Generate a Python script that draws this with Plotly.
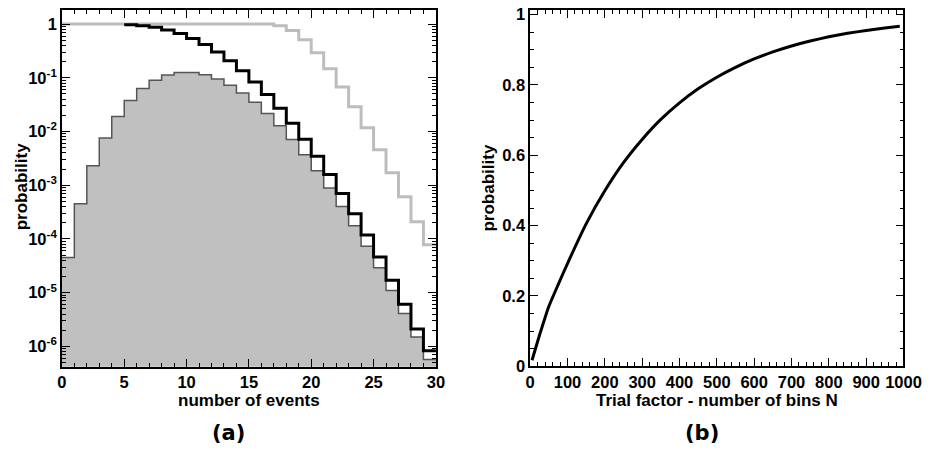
import plotly.graph_objects as go

# ---------------- data ----------------
# (a) Poisson-like histogram of number of events, bins 0..29
hist_vals = [4.5e-5, 4.5e-4, 2.3e-3, 7.6e-3, 1.9e-2, 3.8e-2, 6.3e-2, 9.0e-2, 0.113, 0.125,
             0.125, 0.114, 0.095, 0.073, 0.052, 0.035, 0.0217, 0.0128, 0.0071, 0.0037,
             0.00187, 8.9e-4, 4.0e-4, 1.76e-4, 7.3e-5, 2.9e-5, 1.1e-5, 4.1e-6, 1.5e-6, 5.7e-7]
# cumulative probability (black), bins 5..29
cum_start = 5
cum_vals = [0.971, 0.933, 0.870, 0.780, 0.667, 0.542, 0.417, 0.303, 0.208, 0.135,
            0.0835, 0.0487, 0.027, 0.0143, 0.0072, 0.00345, 0.00159, 7.0e-4, 2.94e-4, 1.19e-4,
            4.6e-5, 1.7e-5, 6.1e-6, 2.1e-6, 8.3e-7]
# trial-factor corrected probability (light gray), bins 0..29
trial_vals = [1.0] * 17 + [0.935, 0.763, 0.514, 0.292, 0.147, 0.0674, 0.029, 0.0118,
                           0.0046, 0.0017, 6.1e-4, 2.1e-4, 7.8e-5]

# (b) probability vs trial factor N
n_bins = [5, 25, 50, 75, 100, 150, 200, 250, 300, 350, 400, 450, 500, 550, 600,
          650, 700, 750, 800, 850, 900, 950, 990]
prob_b = [0.017, 0.088, 0.170, 0.232, 0.292, 0.405, 0.499, 0.579, 0.645, 0.702, 0.749,
          0.789, 0.822, 0.850, 0.874, 0.894, 0.911, 0.925, 0.937, 0.947, 0.955, 0.962, 0.967]

ytick_vals_a = [1e-6, 1e-5, 1e-4, 1e-3, 1e-2, 1e-1, 1]
ytick_text_a = ["10<sup>-6</sup>", "10<sup>-5</sup>", "10<sup>-4</sup>", "10<sup>-3</sup>",
                "10<sup>-2</sup>", "10<sup>-1</sup>", "1"]
xtick_vals_a = [0, 5, 10, 15, 20, 25, 30]
xtick_vals_b = [0, 100, 200, 300, 400, 500, 600, 700, 800, 900, 1000]
ytick_vals_b = [0, 0.2, 0.4, 0.6, 0.8, 1]
ytick_text_b = ["0", "0.2", "0.4", "0.6", "0.8", "1"]

# ---------------- geometry ----------------
W, H = 941, 461
def px(x):
    return x / W
def py(y):
    return 1 - y / H

FONT = "Liberation Sans"
tickfont = dict(family=FONT, size=16.5, color="black", weight="bold")

fig = go.Figure()

edges = list(range(len(hist_vals) + 1))
# filled histogram
fig.add_trace(go.Bar(x=[e + 0.5 for e in edges[:-1]], y=hist_vals, width=1,
                     marker=dict(color="#c0c0c0", line=dict(width=0)),
                     xaxis="x", yaxis="y", showlegend=False))
fig.add_trace(go.Scatter(x=edges, y=hist_vals + [hist_vals[-1]], mode="lines",
                         line=dict(shape="hv", color="#555555", width=1.5),
                         xaxis="x", yaxis="y", showlegend=False))
# trial factor (gray)
fig.add_trace(go.Scatter(x=edges, y=trial_vals + [trial_vals[-1]], mode="lines",
                         line=dict(shape="hv", color="#bdbdbd", width=3),
                         xaxis="x", yaxis="y", showlegend=False))
# cumulative (black)
cx = list(range(cum_start, cum_start + len(cum_vals) + 1))
fig.add_trace(go.Scatter(x=cx, y=cum_vals + [cum_vals[-1]], mode="lines",
                         line=dict(shape="hv", color="black", width=3),
                         xaxis="x", yaxis="y", showlegend=False))

# (b) curve
fig.add_trace(go.Scatter(x=n_bins, y=prob_b, mode="lines",
                         line=dict(color="black", width=3, shape="spline", smoothing=0.4),
                         xaxis="x2", yaxis="y2", showlegend=False))

minor_log = [m * 10.0 ** d for d in range(-7, 1) for m in range(2, 10)]

axis_common = dict(showline=True, linecolor="black", linewidth=1.5, mirror="allticks",
                   ticks="inside", ticklen=8, tickwidth=1, tickcolor="black",
                   showgrid=False, zeroline=False, tickfont=tickfont)

fig.update_layout(
    width=W, height=H,
    margin=dict(l=0, r=0, t=0, b=0),
    paper_bgcolor="white", plot_bgcolor="white",
    bargap=0,
    xaxis=dict(domain=[px(58.3), px(441.7)], range=[0, 30], anchor="y",
               tickmode="array", tickvals=xtick_vals_a,
               minor=dict(ticks="inside", ticklen=4, tickcolor="black", dtick=1, showgrid=False),
               **axis_common),
    yaxis=dict(domain=[py(373.3), py(6)], type="log", range=[-6.38, 0.266], anchor="x",
               tickmode="array", tickvals=ytick_vals_a, ticktext=ytick_text_a,
               minor=dict(ticks="inside", ticklen=4, tickcolor="black", tickvals=minor_log,
                          showgrid=False),
               **axis_common),
    xaxis2=dict(domain=[px(538.3), px(921)], range=[0, 1000], anchor="y2",
                tickmode="array", tickvals=xtick_vals_b,
                minor=dict(ticks="inside", ticklen=4, tickcolor="black", dtick=20, showgrid=False),
                **axis_common),
    yaxis2=dict(domain=[py(372.7), py(6)], range=[0, 1.0138], anchor="x2",
                tickmode="array", tickvals=ytick_vals_b, ticktext=ytick_text_b,
                minor=dict(ticks="inside", ticklen=4, tickcolor="black", dtick=0.05, showgrid=False),
                **axis_common),
)

titlefont = dict(family=FONT, size=17, color="black", weight="bold")
labfont = dict(family="DejaVu Sans", size=21, color="black", weight="bold")
ann = [
    dict(text="number of events", x=px(250), y=py(408), xref="paper", yref="paper",
         showarrow=False, font=titlefont, xanchor="center", yanchor="middle"),
    dict(text="Trial factor - number of bins N", x=px(729.7), y=py(408), xref="paper", yref="paper",
         showarrow=False, font=titlefont, xanchor="center", yanchor="middle"),
    dict(text="probability", x=px(17), y=py(188), xref="paper", yref="paper", textangle=-90,
         showarrow=False, font=titlefont, xanchor="center", yanchor="middle"),
    dict(text="probability", x=px(496), y=py(189), xref="paper", yref="paper", textangle=-90,
         showarrow=False, font=titlefont, xanchor="center", yanchor="middle"),
    dict(text="(a)", x=px(229), y=py(441), xref="paper", yref="paper",
         showarrow=False, font=labfont, xanchor="center", yanchor="middle"),
    dict(text="(b)", x=px(714), y=py(441), xref="paper", yref="paper",
         showarrow=False, font=labfont, xanchor="center", yanchor="middle"),
]
fig.update_layout(annotations=ann)

fig.write_html("out.html")
